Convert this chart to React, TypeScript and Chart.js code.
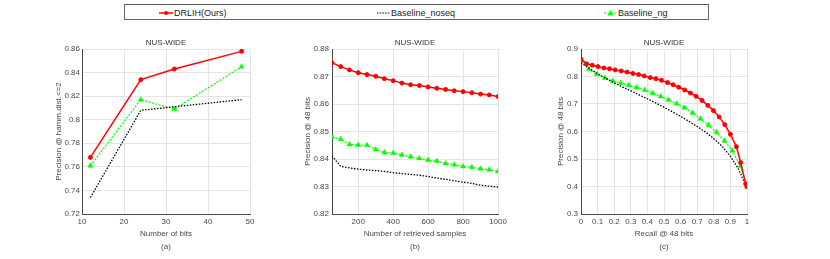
import React, { useEffect, useRef } from "react";
import { Chart, registerables } from "chart.js";
Chart.register(...registerables);

// ---------- DATA ----------
// (a) precision vs number of bits
const bitsX = [12, 24, 32, 48];
const bitsDRLIH = [0.768, 0.834, 0.843, 0.858];
const bitsNoseq = [0.734, 0.808, 0.811, 0.817];
const bitsNg = [0.761, 0.817, 0.809, 0.845];

// (b) precision vs number of retrieved samples
const samplesX = [50, 100, 150, 200, 250, 300, 350, 400, 450, 500, 550, 600, 650, 700, 750, 800, 850, 900, 950, 1000];
const samplesDRLIH = [0.875, 0.8736, 0.8724, 0.8714, 0.8707, 0.8701, 0.8692, 0.8685, 0.8676, 0.867, 0.8667, 0.8662, 0.8657, 0.8653, 0.8648, 0.8645, 0.8641, 0.8636, 0.8633, 0.8627];
const samplesNoseq = [0.8411, 0.8373, 0.8368, 0.8363, 0.836, 0.8358, 0.8355, 0.835, 0.8347, 0.8344, 0.8341, 0.8336, 0.8331, 0.8326, 0.8321, 0.8316, 0.8311, 0.8305, 0.8301, 0.8298];
const samplesNg = [0.848, 0.8472, 0.8453, 0.8451, 0.845, 0.8435, 0.8424, 0.8422, 0.8415, 0.8408, 0.8402, 0.8396, 0.8392, 0.8384, 0.8379, 0.8373, 0.837, 0.8365, 0.8361, 0.8355];

// (c) precision-recall
const recallDRLIH = [0, 0.034, 0.068, 0.102, 0.138, 0.172, 0.206, 0.242, 0.277, 0.313, 0.347, 0.381, 0.417, 0.451, 0.485, 0.521, 0.555, 0.589, 0.625, 0.659, 0.693, 0.729, 0.764, 0.798, 0.832, 0.866, 0.9, 0.936, 0.962, 0.992, 1.0];
const precisionDRLIH = [0.863, 0.846, 0.841, 0.836, 0.831, 0.828, 0.824, 0.82, 0.816, 0.811, 0.807, 0.802, 0.796, 0.792, 0.786, 0.778, 0.77, 0.761, 0.751, 0.74, 0.728, 0.713, 0.695, 0.676, 0.653, 0.625, 0.59, 0.545, 0.487, 0.41, 0.4];
const recallNoseq = [0, 0.05, 0.1, 0.15, 0.2, 0.25, 0.3, 0.35, 0.4, 0.45, 0.5, 0.55, 0.6, 0.65, 0.7, 0.75, 0.8, 0.85, 0.9, 0.95, 1.0];
const precisionNoseq = [0.85, 0.83, 0.81, 0.793, 0.777, 0.762, 0.748, 0.733, 0.719, 0.704, 0.688, 0.672, 0.655, 0.637, 0.618, 0.598, 0.574, 0.546, 0.51, 0.462, 0.393];
const recallNg = [0, 0.048, 0.096, 0.144, 0.192, 0.24, 0.288, 0.336, 0.384, 0.432, 0.48, 0.528, 0.576, 0.624, 0.672, 0.72, 0.768, 0.816, 0.864, 0.912, 0.96, 1.0];
const precisionNg = [0.856, 0.826, 0.808, 0.795, 0.784, 0.776, 0.768, 0.76, 0.751, 0.739, 0.727, 0.715, 0.701, 0.686, 0.667, 0.646, 0.623, 0.597, 0.566, 0.53, 0.475, 0.398];

const seriesNames = ["DRLIH(Ours)", "Baseline_noseq", "Baseline_ng"];
const panelTitle = "NUS-WIDE";

// ---------- STYLE ----------
const FONT = "'Liberation Sans', Arial, Helvetica, sans-serif";
const RED = "#ff0000";
const GREEN = "#00ff00";
const BLACK = "#000000";
const TEXT = "#4a4a4a";
const GRID = "#e4e4e4";
const AXIS = "#4a4a4a";

const toPts = (xs: number[], ys: number[]) => xs.map((x, i) => ({ x, y: ys[i] }));
const fmt = (v: number) => String(Math.round(v * 10000) / 10000);

function datasets(red: any[], black: any[], green: any[]) {
  return [
    {
      label: seriesNames[0], data: red, borderColor: RED, backgroundColor: RED,
      borderWidth: 1.5, pointStyle: "circle", pointRadius: 2, pointBorderWidth: 1, tension: 0,
    },
    {
      label: seriesNames[1], data: black, borderColor: BLACK, backgroundColor: BLACK,
      borderWidth: 1.3, borderDash: [1.5, 1.5], pointRadius: 0, tension: 0,
    },
    {
      label: seriesNames[2], data: green, borderColor: GREEN, backgroundColor: GREEN,
      borderWidth: 1.2, borderDash: [2, 1.5], pointStyle: "triangle", pointRadius: 3, pointBorderWidth: 0.5, tension: 0,
    },
  ];
}

type PanelDef = {
  plotLeft: number; plotRight: number; yTitleX: number; tickRight: number;
  xMin: number; xMax: number; xStep: number; xTicks?: number[]; xTitle: string;
  yMin: number; yMax: number; yStep: number; yTitle: string; sub: string;
  data: any[];
};

const TOP = 34;
const H = 259 - TOP;
const YW = 45;
const RPAD = 12;

function Panel({ def }: { def: PanelDef }) {
  const ref = useRef<HTMLCanvasElement>(null);
  const left = def.plotLeft - YW;
  const width = def.plotRight + RPAD - left;
  useEffect(() => {
    if (!ref.current) return;
    const f8 = { family: FONT, size: 8 };
    const chart = new Chart(ref.current, {
      type: "line",
      data: { datasets: def.data },
      options: {
        responsive: false,
        animation: false,
        layout: { padding: { left: 0, right: RPAD, top: 0, bottom: 0 } },
        plugins: {
          legend: { display: false },
          tooltip: { enabled: false },
          title: {
            display: true, text: panelTitle, fullSize: false, color: "#333",
            font: { ...f8, weight: "normal" }, padding: { top: 4, bottom: 1.4 },
          },
          subtitle: {
            display: true, text: def.sub, position: "bottom", fullSize: false, color: TEXT,
            font: { ...f8, weight: "normal" }, padding: { top: 2, bottom: 7.2 },
          },
        },
        scales: {
          x: {
            type: "linear", min: def.xMin, max: def.xMax,
            ticks: { stepSize: def.xStep, color: TEXT, font: f8, padding: 3, maxRotation: 0, autoSkip: false, callback: (v: any) => fmt(Number(v)) },
            afterBuildTicks: def.xTicks ? (s: any) => { s.ticks = def.xTicks!.map((value) => ({ value })); } : undefined,
            grid: { color: GRID, drawTicks: false, lineWidth: 1 },
            border: { color: AXIS, width: 1 },
            title: { display: true, text: def.xTitle, color: TEXT, font: f8, padding: { top: 0, bottom: 1.4 } },
            afterFit: (s: any) => { s.height = 26.2; },
          },
          y: {
            type: "linear", min: def.yMin, max: def.yMax,
            ticks: { stepSize: def.yStep, color: TEXT, font: f8, padding: def.plotLeft - def.tickRight, callback: (v: any) => fmt(Number(v)) },
            grid: { color: GRID, drawTicks: false, lineWidth: 1 },
            border: { color: AXIS, width: 1 },
            title: { display: true, text: def.yTitle, color: TEXT, font: f8, padding: { top: def.yTitleX - 4.8 - left, bottom: 0 } },
            afterFit: (s: any) => { s.width = YW; },
          },
        },
      } as any,
    });
    return () => chart.destroy();
  }, []);
  return (
    <canvas ref={ref} width={width} height={H}
      style={{ position: "absolute", left, top: TOP, width, height: H }} />
  );
}

const panels: PanelDef[] = [
  {
    plotLeft: 82, plotRight: 250, yTitleX: 59, tickRight: 80,
    xMin: 10, xMax: 50, xStep: 10, xTitle: "Number of bits",
    yMin: 0.72, yMax: 0.86, yStep: 0.02, yTitle: "Precision @ hamm.dist.<=2", sub: "(a)",
    data: datasets(toPts(bitsX, bitsDRLIH), toPts(bitsX, bitsNoseq), toPts(bitsX, bitsNg)),
  },
  {
    plotLeft: 332, plotRight: 498, yTitleX: 308, tickRight: 329,
    xMin: 50, xMax: 1000, xStep: 200, xTicks: [200, 400, 600, 800, 1000], xTitle: "Number of retrieved samples",
    yMin: 0.82, yMax: 0.88, yStep: 0.01, yTitle: "Precision @ 48 bits", sub: "(b)",
    data: datasets(toPts(samplesX, samplesDRLIH), toPts(samplesX, samplesNoseq), toPts(samplesX, samplesNg)),
  },
  {
    plotLeft: 581, plotRight: 747, yTitleX: 561, tickRight: 578,
    xMin: 0, xMax: 1, xStep: 0.1, xTitle: "Recall @ 48 bits",
    yMin: 0.3, yMax: 0.9, yStep: 0.1, yTitle: "Precision @ 48 bits", sub: "(c)",
    data: datasets(toPts(recallDRLIH, precisionDRLIH), toPts(recallNoseq, precisionNoseq), toPts(recallNg, precisionNg)),
  },
];

function LegendSample({ kind }: { kind: number }) {
  if (kind === 0)
    return (
      <svg width={14} height={8} style={{ display: "block" }}>
        <line x1={0} y1={4} x2={14} y2={4} stroke={RED} strokeWidth={1.5} />
        <circle cx={7} cy={4} r={2} fill={RED} />
      </svg>
    );
  if (kind === 1)
    return (
      <svg width={13} height={8} style={{ display: "block" }}>
        <line x1={0} y1={4} x2={13} y2={4} stroke={BLACK} strokeWidth={1.2} strokeDasharray="1.5 1.2" />
      </svg>
    );
  return (
    <svg width={13} height={8} style={{ display: "block" }}>
      <line x1={0} y1={4} x2={13} y2={4} stroke={GREEN} strokeWidth={1.2} strokeDasharray="2 1.5" />
      <polygon points="6.5,1 9.5,6.5 3.5,6.5" fill={GREEN} />
    </svg>
  );
}

const legendPos = [159, 377, 604];

export default function App() {
  return (
    <div style={{ position: "fixed", left: 0, top: 0, width: 830, height: 259, background: "#fff", overflow: "hidden" }}>
      <div style={{ position: "absolute", left: 124, top: 4, width: 585, height: 16, borderTop: "1.5px solid #555", borderBottom: "1.5px solid #666", borderLeft: "1px solid #666", borderRight: "1px solid #666", boxSizing: "border-box" }} />
      {seriesNames.map((n, i) => (
        <div key={n} style={{ position: "absolute", left: legendPos[i], top: 6, height: 13, display: "flex", alignItems: "center", gap: 1, fontFamily: FONT, fontSize: 9, color: "#222", whiteSpace: "nowrap" }}>
          <LegendSample kind={i} />
          <span>{n}</span>
        </div>
      ))}
      {panels.map((p, i) => <Panel key={i} def={p} />)}
    </div>
  );
}
